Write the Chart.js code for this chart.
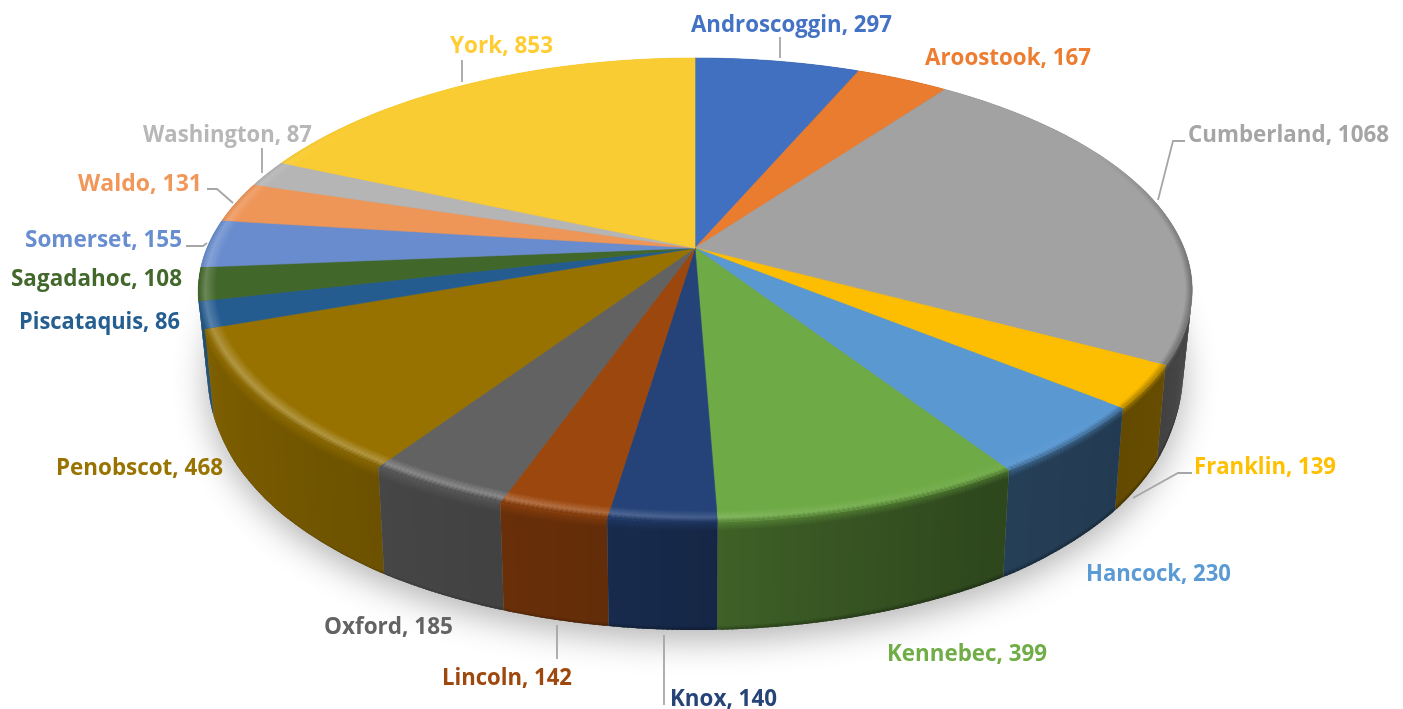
<!doctype html>
<html>
<head>
<meta charset="utf-8">
<title>Maine counties</title>
<script src="https://cdn.jsdelivr.net/npm/chart.js@4"></script>
<style>
  html, body { margin: 0; padding: 0; background: #fff; }
  canvas { display: block; filter: blur(0.45px); }
</style>
</head>
<body>
<canvas id="myChart" width="1403" height="709"></canvas>
<script>
const counties = ['Androscoggin', 'Aroostook', 'Cumberland', 'Franklin', 'Hancock', 'Kennebec', 'Knox', 'Lincoln',
  'Oxford', 'Penobscot', 'Piscataquis', 'Sagadahoc', 'Somerset', 'Waldo', 'Washington', 'York'];
const counts = [297, 167, 1068, 139, 230, 399, 140, 142, 185, 468, 86, 108, 155, 131, 87, 853];

const sliceColors = ['#4270c0', '#e97c2f', '#a2a2a2', '#fdbd00', '#5a98d2', '#6eaa45', '#254379', '#9c470e',
  '#626262', '#977200', '#245c90', '#42672a', '#688ccd', '#ee9558', '#b5b5b5', '#facc33'];
const textColors = ['#4472c4', '#ed7d31', '#a5a5a5', '#ffc000', '#5b9bd5', '#70ad47', '#264478', '#9e480e',
  '#636363', '#997300', '#255e91', '#43682b', '#698ed0', '#f1975a', '#b7b7b7', '#ffcd33'];

// label box: left, right, middle y
const labelBoxes = [[691, 892, 25], [925, 1091, 58], [1188, 1389, 135], [1194, 1336, 467], [1086, 1231, 574],
  [887, 1047, 654], [670, 777, 699], [442, 572, 678], [324, 453, 627], [56, 223, 468], [19, 180, 322],
  [11, 182, 279], [25, 182, 240], [78, 202, 184], [143, 312, 135], [450, 553, 46]];

const leaderLines = [
  [[780, 37], [780, 58]],
  [[1185, 141], [1173, 141], [1158, 200]],
  [[1192, 473], [1178, 473], [1133, 498]],
  [[557, 625], [557, 659]],
  [[664, 635], [664, 705]],
  [[186, 246], [203, 246], [207, 243]],
  [[207, 189], [217, 189], [233, 203]],
  [[262, 148], [262, 173]],
  [[462, 60], [462, 82]]
];

// shape of the tilted disc
const disc = { cx: 695, cy: 248, a: 489, b: 224.4, p: 0.181 };

// picture tables, keyed by angle clockwise from the top (or by y for the wall depth)
const wallShade = [[0, .45], [90, .45], [130, .39], [150, .42], [170, .52], [187, .63], [210, .7], [230, .77], [250, .83], [270, .87], [360, .87]];
const rimLight = [[0, 0], [130, 0], [170, .1], [200, .24], [240, .26], [270, .18], [295, .1], [310, 0], [360, 0]];
const rimFade = [[0, 0], [62, 0], [95, 1], [285, 1], [320, 0], [360, 0]];
const leanX = [[0, 0], [175, 0], [197, 3.5], [214, 5], [235, 2], [250, 0], [270, 1], [300, 3], [325, 2.5], [360, 0]];
const wallDepth = [[0, 60], [250, 70], [332, 88], [365, 96], [408, 102], [465, 107], [522, 108], [709, 108]];

function lookup(table, key) {
  for (let i = 1; i < table.length; i++) {
    if (key <= table[i][0]) {
      const t = (key - table[i - 1][0]) / (table[i][0] - table[i - 1][0]);
      return table[i - 1][1] + t * (table[i][1] - table[i - 1][1]);
    }
  }
  return table[table.length - 1][1];
}

function toRgb(hex) {
  return [1, 3, 5].map(i => parseInt(hex.substr(i, 2), 16));
}
function mix(c1, c2, t) {
  return c1.map((v, i) => v + (c2[i] - v) * t);
}
function css(c) {
  return 'rgb(' + c.map(Math.round).join(',') + ')';
}

// top face point, theta clockwise from the top
function topPoint(theta, r) {
  const u = r * Math.sin(theta), v = -r * Math.cos(theta);
  const d = 1 - disc.p * v;
  const deg = ((theta * 180 / Math.PI) % 360 + 360) % 360;
  return { x: disc.cx + disc.a * u / d + r * lookup(leanX, deg), y: disc.cy + disc.b * v / d };
}
// point on the bottom plane under a rim point
function lowPoint(pt) {
  return { x: disc.cx + 0.982 * (pt.x - disc.cx), y: pt.y + lookup(wallDepth, pt.y) };
}

function quad(ctx, a, b, c, d, fill) {
  ctx.beginPath();
  ctx.moveTo(a.x, a.y);
  ctx.lineTo(b.x, b.y);
  ctx.lineTo(c.x, c.y);
  ctx.lineTo(d.x, d.y);
  ctx.closePath();
  ctx.fillStyle = fill;
  ctx.fill();
}

const STEP = Math.PI / 360;
const OVERLAP = 0.003;

function sliceAngles(el) {
  return { from: el.startAngle + Math.PI / 2, to: el.endAngle + Math.PI / 2 };
}

// cut a slice into thin strips that overlap a little so no seams show
function stripsOf(el) {
  const { from, to } = sliceAngles(el);
  const n = Math.max(1, Math.ceil((to - from) / STEP));
  const out = [];
  for (let i = 0; i < n; i++) {
    const t0 = from + (to - from) * i / n, t1 = from + (to - from) * (i + 1) / n;
    out.push({
      t0: Math.max(from, t0 - OVERLAP),
      t1: Math.min(to, t1 + OVERLAP),
      deg: ((t0 + t1) / 2) * 180 / Math.PI,
      base: toRgb(el.options.backgroundColor)
    });
  }
  return out;
}

function drawShadow(ctx) {
  ctx.save();
  ctx.shadowColor = 'rgba(0,0,0,0.3)';
  ctx.shadowBlur = 34;
  ctx.shadowOffsetY = 10;
  ctx.fillStyle = '#888';
  ctx.beginPath();
  for (let t = 0; t < Math.PI * 2; t += STEP * 2) {
    const p = lowPoint(topPoint(t, 1));
    ctx.lineTo(p.x, p.y);
  }
  ctx.closePath();
  ctx.fill();
  ctx.restore();
}

function drawWalls(ctx, arcs) {
  const strips = arcs.flatMap(stripsOf);
  strips.sort((s1, s2) => Math.cos(s2.t0) - Math.cos(s1.t0));
  strips.forEach(s => {
    const wall = mix([0, 0, 0], s.base, lookup(wallShade, s.deg));
    const a = topPoint(s.t0, 1), b = topPoint(s.t1, 1);
    const c = lowPoint(b), d = lowPoint(a);
    const h = d.y - a.y;
    const g = ctx.createLinearGradient(0, a.y, 0, d.y);
    g.addColorStop(0, css(mix(s.base, wall, 0.55)));
    g.addColorStop(Math.min(0.1, 9 / h), css(wall));
    g.addColorStop(0.96, css(wall));
    g.addColorStop(1, css(mix([0, 0, 0], wall, 0.72)));
    quad(ctx, a, b, c, d, g);
  });
}

function drawTop(ctx, arcs) {
  arcs.forEach(el => {
    const { from, to } = sliceAngles(el);
    ctx.beginPath();
    ctx.moveTo(disc.cx, disc.cy);
    for (let t = from; t < to; t += STEP) {
      const p = topPoint(t, 1);
      ctx.lineTo(p.x, p.y);
    }
    const e = topPoint(to, 1);
    ctx.lineTo(e.x, e.y);
    ctx.closePath();
    ctx.fillStyle = el.options.backgroundColor;
    ctx.strokeStyle = el.options.backgroundColor;
    ctx.lineWidth = 0.6;
    ctx.fill();
    ctx.stroke();
  });
}

// soft rounded edge between the top face and the wall
function drawRim(ctx, arcs) {
  arcs.flatMap(stripsOf).forEach(s => {
    const fade = lookup(rimFade, s.deg);
    if (fade <= 0) return;
    const wall = mix([0, 0, 0], s.base, lookup(wallShade, s.deg));
    const lit = mix(s.base, [255, 255, 255], lookup(rimLight, s.deg) * fade);
    const edge = mix(s.base, mix(s.base, wall, 0.55), fade);
    const a = topPoint(s.t0, 0.965), b = topPoint(s.t1, 0.965);
    const c = topPoint(s.t1, 1), d = topPoint(s.t0, 1);
    const g = ctx.createLinearGradient(a.x, a.y, d.x, d.y);
    g.addColorStop(0, css(s.base));
    g.addColorStop(0.6, css(lit));
    g.addColorStop(1, css(edge));
    quad(ctx, a, b, c, d, g);
  });
}

function drawLeaders(ctx) {
  ctx.strokeStyle = '#a6a6a6';
  ctx.lineWidth = 1.8;
  leaderLines.forEach(line => {
    ctx.beginPath();
    line.forEach((p, i) => i ? ctx.lineTo(p[0], p[1]) : ctx.moveTo(p[0], p[1]));
    ctx.stroke();
  });
}

function drawLabels(ctx) {
  ctx.textBaseline = 'middle';
  ctx.textAlign = 'left';
  ctx.font = 'bold 23px "Open Sans"';
  counties.forEach((name, i) => {
    const text = name + ', ' + counts[i];
    const box = labelBoxes[i];
    const scale = (box[1] - box[0]) / ctx.measureText(text).width;
    ctx.save();
    ctx.translate(box[0], box[2]);
    ctx.scale(scale, 1);
    ctx.fillStyle = textColors[i];
    ctx.fillText(text, 0, 0);
    ctx.restore();
  });
}

const pie3d = {
  id: 'pie3d',
  beforeDatasetDraw() {
    return false; // the flat pie is replaced by the tilted one below
  },
  afterDatasetsDraw(chart) {
    const ctx = chart.ctx;
    const arcs = chart.getDatasetMeta(0).data;
    ctx.save();
    drawShadow(ctx);
    drawWalls(ctx, arcs);
    drawTop(ctx, arcs);
    drawRim(ctx, arcs);
    drawLeaders(ctx);
    drawLabels(ctx);
    ctx.restore();
  }
};

const myChart = new Chart(document.getElementById('myChart').getContext('2d'), {
  type: 'pie',
  data: {
    labels: counties,
    datasets: [{ data: counts, backgroundColor: sliceColors, borderWidth: 0 }]
  },
  options: {
    responsive: false,
    animation: false,
    plugins: { legend: { display: false }, tooltip: { enabled: false } }
  },
  plugins: [pie3d]
});
</script>
</body>
</html>
